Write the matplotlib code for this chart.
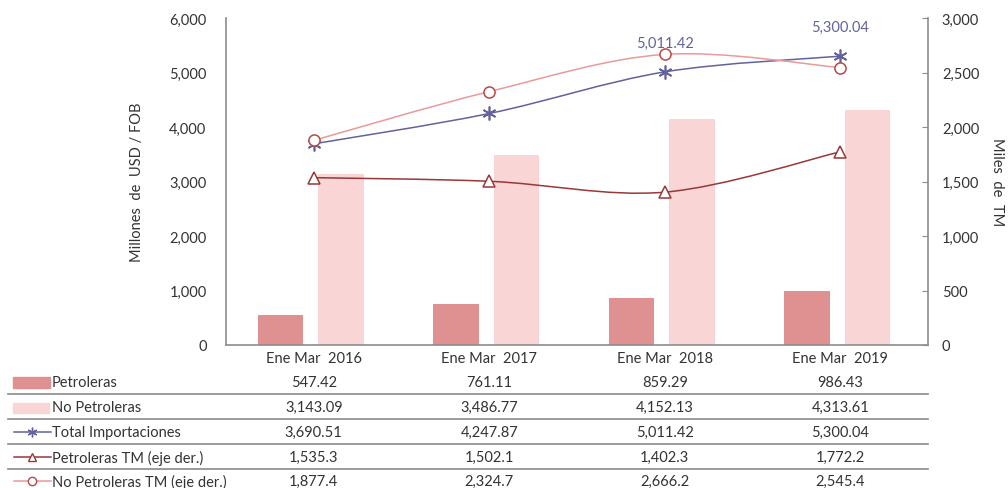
import numpy as np
import matplotlib
matplotlib.use("Agg")
import matplotlib.pyplot as plt
from matplotlib.path import Path
from matplotlib.patches import PathPatch, Rectangle
from matplotlib.lines import Line2D
import matplotlib.transforms as mtransforms

plt.rcParams['font.family'] = ['Lato', 'DejaVu Sans']

# datos
periodos = ['Ene Mar  2016', 'Ene Mar  2017', 'Ene Mar  2018', 'Ene Mar  2019']
petroleras = [547.42, 761.11, 859.29, 986.43]
no_petroleras = [3143.09, 3486.77, 4152.13, 4313.61]
total_import = [3690.51, 4247.87, 5011.42, 5300.04]
petroleras_tm = [1535.3, 1502.1, 1402.3, 1772.2]
no_petroleras_tm = [1877.4, 2324.7, 2666.2, 2545.4]

tabla = [
    ('Petroleras', petroleras, '{:,.2f}'),
    ('No Petroleras', no_petroleras, '{:,.2f}'),
    ('Total Importaciones', total_import, '{:,.2f}'),
    ('Petroleras TM (eje der.)', petroleras_tm, '{:,.1f}'),
    ('No Petroleras TM (eje der.)', no_petroleras_tm, '{:,.1f}'),
]

c_pet = '#df9191'
c_nopet = '#f9d5d5'
c_total = '#62629c'
c_pet_tm = '#983838'
c_nopet_tm = '#e99a9a'
c_nopet_tm_m = '#b84848'
gris = '#8c8c8c'
txt = '#333333'
fs = 10.5

W, H = 1008, 489
fig = plt.figure(figsize=(W / 100, H / 100), dpi=100)
ax = fig.add_axes([226 / W, 1 - 346 / H, (928 - 226) / W, (346 - 19) / H])
ax2 = ax.twinx()

x = np.arange(len(periodos))


def suave(ejes, xs, ys, color, lw=1.1):
    # curva suavizada tipo Excel (Catmull-Rom a Bezier)
    pts = np.column_stack([xs, ys]).astype(float)
    ext = np.vstack([pts[0], pts, pts[-1]])
    verts = [pts[0]]
    codes = [Path.MOVETO]
    for i in range(len(pts) - 1):
        p0, p1, p2, p3 = ext[i], ext[i + 1], ext[i + 2], ext[i + 3]
        verts += [p1 + (p2 - p0) / 6, p2 - (p3 - p1) / 6, p2]
        codes += [Path.CURVE4] * 3
    ejes.add_patch(PathPatch(Path(verts, codes), fill=False, edgecolor=color, lw=lw, zorder=3))


ax.bar(x - 0.19, petroleras, width=0.26, color=c_pet, zorder=1)
ax.bar(x + 0.155, no_petroleras, width=0.26, color=c_nopet, zorder=1)

suave(ax, x, total_import, c_total)
ax.plot(x, total_import, linestyle='none', marker=(6, 2, 0), ms=10, mec=c_total, mew=1.2, zorder=4)

suave(ax2, x, petroleras_tm, c_pet_tm)
ax2.plot(x, petroleras_tm, linestyle='none', marker='^', ms=9, mfc='white', mec=c_pet_tm, mew=1.1, zorder=4)
suave(ax2, x, no_petroleras_tm, c_nopet_tm)
ax2.plot(x, no_petroleras_tm, linestyle='none', marker='o', ms=8, mfc='white', mec=c_nopet_tm_m, mew=1.1, zorder=4)

for i in [2, 3]:
    ax.annotate('{:,.2f}'.format(total_import[i]), (x[i], total_import[i]), xytext=(0, 16),
                textcoords='offset points', ha='center', va='bottom', color=c_total, fontsize=fs)

ax.set_xlim(-0.5, 3.5)
ax.set_ylim(0, 6000)
ax2.set_ylim(0, 3000)
ax.set_yticks(range(0, 6001, 1000))
ax2.set_yticks(range(0, 3001, 500))
ax.yaxis.set_major_formatter(matplotlib.ticker.StrMethodFormatter('{x:,.0f}'))
ax2.yaxis.set_major_formatter(matplotlib.ticker.StrMethodFormatter('{x:,.0f}'))
ax.set_xticks(x)
ax.set_xticklabels(periodos)

for a in (ax, ax2):
    for s in a.spines.values():
        s.set_visible(False)
ax.spines['left'].set_visible(True)
ax.spines['bottom'].set_visible(True)
ax2.spines['right'].set_visible(True)
for s in (ax.spines['left'], ax.spines['bottom'], ax2.spines['right']):
    s.set_color(gris)
    s.set_linewidth(1.2)

ax.tick_params(axis='y', length=0, pad=14, labelsize=fs, labelcolor=txt)
ax.tick_params(axis='x', length=0, pad=4, labelsize=fs, labelcolor=txt)
ax2.tick_params(axis='y', direction='in', length=4, color=gris, pad=10, labelsize=fs, labelcolor=txt)

ax.set_ylabel('Millones  de  USD / FOB', fontsize=fs, color=txt, labelpad=18)
ax2.set_ylabel('Miles  de  TM', fontsize=fs, color=txt, rotation=270, labelpad=18)

# tabla de datos
tr = mtransforms.blended_transform_factory(ax.transData, fig.transFigure)
filas_y = [383, 408, 433, 458, 482]
for (nombre, vals, fmt), yp in zip(tabla, filas_y):
    yf = 1 - yp / H
    fig.text(52 / W, yf, nombre, ha='left', va='center', fontsize=fs, color=txt)
    for xi, v in zip(x, vals):
        fig.text(xi, yf, fmt.format(v), transform=tr, ha='center', va='center', fontsize=fs, color=txt)

for yl in [395, 420, 445, 470]:
    fig.add_artist(Line2D([8 / W, 928 / W], [1 - yl / H] * 2, color='#8a8a8a', lw=1.2))

fig.add_artist(Rectangle((13 / W, 1 - 389 / H), 37 / W, 11 / H, color=c_pet, transform=fig.transFigure))
fig.add_artist(Rectangle((13 / W, 1 - 414 / H), 36 / W, 10 / H, color=c_nopet, transform=fig.transFigure))
claves = [(433, c_total, c_total, (6, 2, 0), 'none', 7),
          (458, c_pet_tm, c_pet_tm, '^', 'white', 6),
          (482, c_nopet_tm, c_nopet_tm_m, 'o', 'white', 6)]
for yp, cl, cm, mk, mf, ms in claves:
    yf = 1 - yp / H
    fig.add_artist(Line2D([14 / W, 51 / W], [yf, yf], color=cl, lw=1.1))
    fig.add_artist(Line2D([32 / W], [yf], marker=mk, ms=ms, mec=cm, mfc=mf, mew=1.0, linestyle='none'))

fig.savefig('out.png', dpi=100)
